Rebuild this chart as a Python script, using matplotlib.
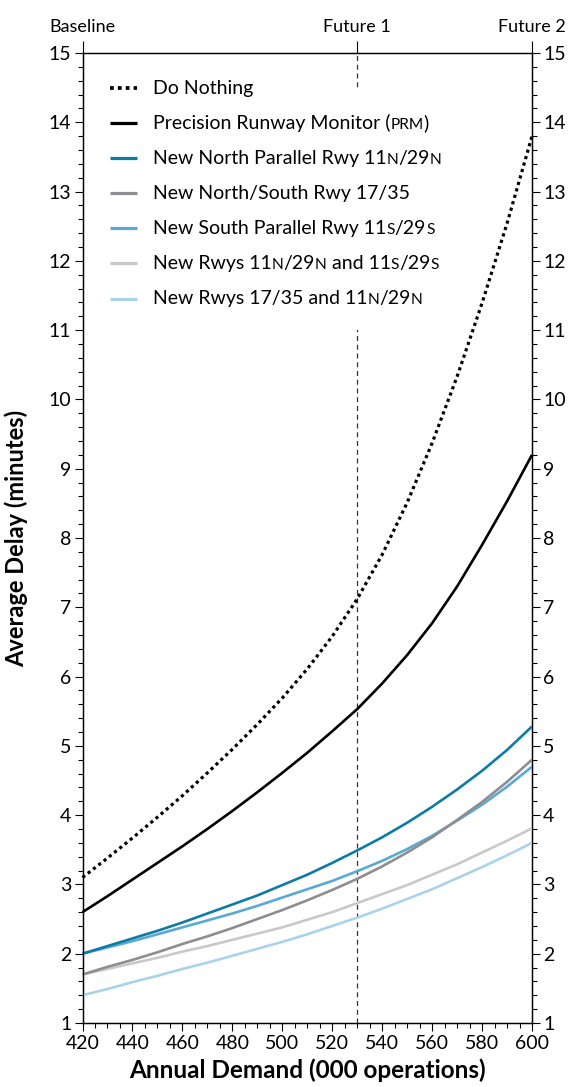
import matplotlib
matplotlib.use("Agg")
import matplotlib.pyplot as plt
from matplotlib.patches import Rectangle
from matplotlib.ticker import MultipleLocator

# annual demand (000 operations)
demand = [420, 430, 440, 450, 460, 470, 480, 490, 500, 510,
          520, 530, 540, 550, 560, 570, 580, 590, 600]

# average delay (minutes)
do_nothing = [3.10, 3.38, 3.67, 3.97, 4.28, 4.61, 4.95, 5.31, 5.69, 6.11,
              6.58, 7.12, 7.76, 8.51, 9.37, 10.33, 11.39, 12.54, 13.80]
prm = [2.60, 2.83, 3.07, 3.31, 3.55, 3.80, 4.06, 4.33, 4.61, 4.90,
       5.21, 5.53, 5.90, 6.31, 6.77, 7.30, 7.90, 8.53, 9.20]
north_parallel = [2.00, 2.11, 2.22, 2.33, 2.45, 2.58, 2.71, 2.84, 2.99, 3.14,
                  3.31, 3.49, 3.68, 3.89, 4.12, 4.37, 4.64, 4.94, 5.28]
north_south = [1.70, 1.81, 1.91, 2.02, 2.14, 2.25, 2.37, 2.50, 2.63, 2.77,
               2.92, 3.08, 3.26, 3.46, 3.68, 3.93, 4.19, 4.48, 4.80]
south_parallel = [2.00, 2.09, 2.18, 2.28, 2.38, 2.48, 2.58, 2.69, 2.81, 2.93,
                  3.05, 3.19, 3.34, 3.51, 3.70, 3.92, 4.15, 4.41, 4.70]
rwys_11n_11s = [1.70, 1.78, 1.86, 1.94, 2.03, 2.11, 2.20, 2.29, 2.38, 2.49,
                2.60, 2.73, 2.86, 2.99, 3.14, 3.29, 3.46, 3.63, 3.81]
rwys_17_11n = [1.40, 1.49, 1.59, 1.68, 1.78, 1.87, 1.97, 2.07, 2.17, 2.28,
               2.40, 2.52, 2.65, 2.79, 2.93, 3.09, 3.25, 3.42, 3.60]

scenario_ticks = [420, 530, 600]
scenario_labels = ["Baseline", "Future 1", "Future 2"]

# legend labels as (text, small caps) pieces
legend_labels = [
    [("Do Nothing", False)],
    [("Precision Runway Monitor (", False), ("PRM", True), (")", False)],
    [("New North Parallel Rwy 11", False), ("N", True), ("/29", False), ("N", True)],
    [("New North/South Rwy 17/35", False)],
    [("New South Parallel Rwy 11", False), ("S", True), ("/29", False), ("S", True)],
    [("New Rwys 11", False), ("N", True), ("/29", False), ("N", True),
     (" and 11", False), ("S", True), ("/29", False), ("S", True)],
    [("New Rwys 17/35 and 11", False), ("N", True), ("/29", False), ("N", True)],
]

plt.rcParams['font.family'] = ['Lato', 'DejaVu Sans']

fig = plt.figure(figsize=(5.73, 10.87), dpi=100)
ax = fig.add_axes([0.144, 0.0589, 0.7845, 0.8924])

series = [
    (do_nothing, "black", (0, (1, 1.1)), 2.3),
    (prm, "black", "-", 1.9),
    (north_parallel, "#0E7BA7", "-", 1.9),
    (north_south, "#8E8E92", "-", 1.9),
    (south_parallel, "#5AA8D4", "-", 1.9),
    (rwys_11n_11s, "#C9C9C9", "-", 1.9),
    (rwys_17_11n, "#A9D3EA", "-", 1.9),
]
for vals, col, ls, lw in series[::-1]:
    ax.plot(demand, vals, color=col, linestyle=ls, linewidth=lw, clip_on=False,
            solid_capstyle="butt", zorder=3)

ax.axvline(530, color="#333333", linestyle=(0, (4, 3)), linewidth=0.9, zorder=1)
# white panel behind the legend hides the Future 1 marker there
ax.add_patch(Rectangle((0.02, 0.714), 0.78, 0.248, transform=ax.transAxes,
                       facecolor="white", edgecolor="none", zorder=2))

ax.set_xlim(420, 600)
ax.set_ylim(1, 15)
ax.xaxis.set_major_locator(MultipleLocator(20))
ax.xaxis.set_minor_locator(MultipleLocator(5))
ax.yaxis.set_major_locator(MultipleLocator(1))
ax.yaxis.set_minor_locator(MultipleLocator(0.2))
ax.tick_params(axis="both", which="both", direction="out", width=0.8, labelsize=14)
ax.tick_params(axis="both", which="major", length=6)
ax.tick_params(axis="both", which="minor", length=3.5)
ax.tick_params(axis="y", which="both", left=True, right=True,
               labelleft=True, labelright=True, pad=2)
ax.tick_params(axis="x", pad=3)
for sp in ax.spines.values():
    sp.set_linewidth(1.0)

ax.set_xlabel("Annual Demand (000 operations)", fontsize=17.5, fontweight="bold")
ax.set_ylabel("Average Delay (minutes)", fontsize=17, fontweight="bold")
ax.yaxis.set_label_coords(-0.122, 0.5)
ax.xaxis.set_label_coords(0.5, -0.037)

top = ax.twiny()
top.set_xlim(ax.get_xlim())
top.set_xticks(scenario_ticks)
top.set_xticklabels(scenario_labels)
top.tick_params(axis="x", direction="out", length=9, width=0.8, labelsize=13, pad=4)

# manual legend
row0 = 0.964
step = 0.0362
for i, (vals, col, ls, lw) in enumerate(series):
    y = row0 - i * step
    ax.plot([0.061, 0.121], [y, y], transform=ax.transAxes, color=col,
            linestyle=ls, linewidth=lw + 0.4, clip_on=False, solid_capstyle="butt",
            zorder=4)

fig.canvas.draw()
renderer = fig.canvas.get_renderer()
inv = ax.transAxes.inverted()
for i, pieces in enumerate(legend_labels):
    y = row0 - i * step - 0.006
    x = 0.157
    for txt, small in pieces:
        t = ax.text(x, y, txt, transform=ax.transAxes, fontsize=11.2 if small else 14,
                    va="baseline", ha="left", zorder=4)
        bb = t.get_window_extent(renderer)
        x = inv.transform((bb.x1, bb.y0))[0]

fig.savefig("out.png", dpi=100)
